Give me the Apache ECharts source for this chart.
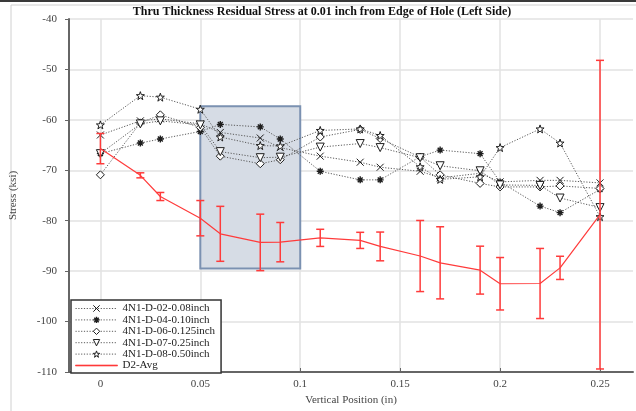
<!DOCTYPE html>
<html>
<head>
<meta charset="utf-8">
<script src="https://cdn.jsdelivr.net/npm/echarts@6/dist/echarts.min.js"></script>
<style>
  html, body { margin: 0; padding: 0; background: #ffffff; }
  #chart { width: 636px; height: 411px; }
</style>
</head>
<body>
<div id="chart"></div>
<script>
// Measurement positions along the thickness (in)
const positions = [0, 0.02, 0.03, 0.05, 0.06, 0.08, 0.09, 0.11, 0.13, 0.14, 0.16, 0.17, 0.19, 0.20, 0.22, 0.23, 0.25];

// Residual stress per specimen (ksi)
const spec02 = [-63.0, -60.2, -59.8, -60.8, -62.5, -63.6, -65.5, -67.2, -68.4, -69.4, -70.2, -71.5, -70.6, -72.3, -72.0, -72.0, -72.5];
const spec04 = [-66.7, -64.6, -63.8, -62.3, -60.9, -61.4, -63.8, -70.2, -71.9, -71.9, -67.3, -66.0, -66.7, -72.3, -77.1, -78.4, -73.8];
const spec06 = [-70.9, -60.6, -59.0, -61.5, -67.2, -68.7, -67.9, -63.4, -61.9, -63.7, -67.4, -70.9, -72.6, -73.3, -73.3, -73.1, -73.6];
const spec07 = [-66.7, -60.8, -60.2, -61.0, -66.3, -67.5, -67.4, -65.4, -64.7, -65.5, -67.5, -69.1, -70.1, -72.9, -73.0, -75.5, -77.4];
const spec08 = [-61.0, -55.2, -55.5, -57.9, -63.4, -65.1, -65.2, -62.1, -61.8, -63.1, -69.3, -71.8, -71.3, -65.5, -61.8, -64.6, -79.2];

// D2 average and its scatter (ksi)
const avgMean = [-65.7, -71.0, -75.2, -79.5, -82.6, -84.3, -84.25, -83.4, -83.9, -85.1, -87.0, -88.35, -89.8, -92.5, -92.45, -89.35, -78.8];
const avgErr  = [3.0, 0.5, 0.8, 3.5, 5.45, 5.6, 3.9, 1.7, 1.6, 2.85, 7.05, 7.15, 4.75, 5.2, 6.95, 2.3, 30.6];

// Series names
const seriesNames = ['4N1-D-02-0.08inch', '4N1-D-04-0.10inch', '4N1-D-06-0.125inch', '4N1-D-07-0.25inch', '4N1-D-08-0.50inch', 'D2-Avg'];

// Axis ticks
const xTicks = [0, 0.05, 0.1, 0.15, 0.2, 0.25];

// Highlighted zone (x range in inches, stress range in ksi)
const zoneX = [0.05, 0.1];
const zoneY = [-89.5, -57.3];

const SERIF = '"Liberation Serif", "Times New Roman", serif';
const INK = '#1e1e1e';
const DOT_LINE = { color: '#5a5a5a', width: 1, type: [1.2, 1.6] };
const RED = '#ff3b3b';

const SYM_CROSS = 'path://M0,0L10,10M10,0L0,10';
const SYM_AST = 'path://M5,0L5,10M0,5L10,5M1.5,1.5L8.5,8.5M8.5,1.5L1.5,8.5';
const SYM_STAR = 'path://M5,0L6.18,3.38L9.76,3.45L6.9,5.62L7.94,9.05L5,7L2.06,9.05L3.1,5.62L0.24,3.45L3.82,3.38Z';
const SYM_BAR = 'path://M0,0L40,0L40,1L0,1Z';

const markerStyles = [
  { color: 'rgba(0,0,0,0)', borderColor: INK, borderWidth: 1 },
  { color: INK, borderColor: INK, borderWidth: 1.4 },
  { color: '#ffffff', borderColor: INK, borderWidth: 1 },
  { color: '#ffffff', borderColor: INK, borderWidth: 1 },
  { color: '#ffffff', borderColor: INK, borderWidth: 1 }
];

const pair = vals => positions.map((x, i) => [x, vals[i]]);

function specimenSeries(idx, vals, symbol, opts) {
  return Object.assign({
    name: seriesNames[idx],
    type: 'line',
    data: pair(vals),
    symbol: symbol,
    symbolSize: 7,
    lineStyle: DOT_LINE,
    itemStyle: markerStyles[idx],
    emphasis: { disabled: true },
    z: 3
  }, opts || {});
}

const legendData = seriesNames.slice(0, 5).map((n, i) => ({
  name: n,
  itemStyle: markerStyles[i],
  lineStyle: DOT_LINE
}));
legendData.push({
  name: seriesNames[5],
  icon: SYM_BAR,
  itemStyle: { color: RED, borderColor: RED, borderWidth: 0.6 },
  lineStyle: { color: RED, width: 1.2, type: 'solid' }
});

const chart = echarts.init(document.getElementById('chart'), null, { renderer: 'canvas' });

const option = {
  animation: false,
  backgroundColor: '#ffffff',
  grid: { left: 67, right: 3, top: 19, bottom: 30, containLabel: false },
  xAxis: {
    type: 'value',
    min: -0.0157,
    max: 0.2665,
    name: 'Vertical Position (in)',
    nameLocation: 'middle',
    nameGap: 23,
    nameTextStyle: { fontFamily: SERIF, fontSize: 11, color: '#444' },
    axisLine: { show: true, onZero: false, lineStyle: { color: '#666', width: 2 } },
    axisTick: { show: true, inside: true, length: 4, customValues: xTicks, lineStyle: { color: '#666' } },
    axisLabel: { customValues: xTicks, fontFamily: SERIF, fontSize: 11, color: '#444', margin: 7,
      formatter: v => String(+v.toFixed(2)) },
    splitLine: { show: true, lineStyle: { color: '#e2e2e2', width: 1.5 } }
  },
  yAxis: {
    type: 'value',
    min: -110,
    max: -40,
    interval: 10,
    name: 'Stress (ksi)',
    nameLocation: 'middle',
    nameGap: 50,
    nameRotate: 90,
    nameTextStyle: { fontFamily: SERIF, fontSize: 11, color: '#444' },
    axisLine: { show: true, onZero: false, lineStyle: { color: '#666', width: 2 } },
    axisTick: { show: true, inside: false, length: 4, lineStyle: { color: '#666' } },
    axisLabel: { fontFamily: SERIF, fontSize: 11, color: '#444', margin: 12 },
    splitLine: { show: true, lineStyle: { color: '#e2e2e2', width: 1.5 } }
  },
  legend: {
    orient: 'vertical',
    left: 71,
    top: 300,
    data: legendData,
    itemWidth: 42,
    itemHeight: 8,
    itemGap: 0.4,
    padding: [3, 6, 2, 4],
    borderColor: '#333',
    borderWidth: 1.5,
    backgroundColor: '#ffffff',
    selectedMode: false,
    textStyle: { fontFamily: SERIF, fontSize: 11, color: '#222' }
  },
  graphic: [
    { type: 'rect', silent: true, z: -10, shape: { x: 11, y: 5, width: 700, height: 500 },
      style: { fill: 'none', stroke: '#d0d0d0', lineWidth: 1 } },
    { type: 'rect', silent: true, z: -10, shape: { x: 0, y: 0, width: 636, height: 2 },
      style: { fill: '#3a3a3a' } },
    { type: 'text', silent: true, x: 322, y: 12,
      style: { text: 'Thru Thickness Residual Stress at 0.01 inch from Edge of Hole (Left Side)',
        fontFamily: SERIF, fontWeight: 'bold', fontSize: 12, fill: '#111',
        align: 'center', verticalAlign: 'middle' } }
  ],
  series: [
    specimenSeries(0, spec02, SYM_CROSS, {
      markArea: {
        silent: true,
        itemStyle: { color: '#d6dce5', borderColor: '#7b91b1', borderWidth: 2 },
        data: [[{ coord: [zoneX[0], zoneY[1]] }, { coord: [zoneX[1], zoneY[0]] }]]
      }
    }),
    specimenSeries(1, spec04, SYM_AST),
    specimenSeries(2, spec06, 'diamond', { symbolSize: 8 }),
    specimenSeries(3, spec07, 'triangle', { symbolSize: 8, symbolRotate: 180 }),
    specimenSeries(4, spec08, SYM_STAR, { symbolSize: 8 }),
    {
      name: seriesNames[5],
      type: 'line',
      data: pair(avgMean),
      symbol: 'none',
      lineStyle: { color: RED, width: 1.2 },
      itemStyle: { color: RED },
      emphasis: { disabled: true },
      z: 6
    },
    {
      name: 'D2-Avg scatter',
      type: 'custom',
      data: positions.map((x, i) => [x, avgMean[i] - avgErr[i], avgMean[i] + avgErr[i]]),
      encode: { x: 0, y: [1, 2] },
      z: 7,
      renderItem: function (params, api) {
        const x = api.value(0);
        const top = api.coord([x, api.value(2)]);
        const bot = api.coord([x, api.value(1)]);
        const half = 4;
        const style = { stroke: RED, lineWidth: 1.5, fill: 'none' };
        return {
          type: 'group',
          children: [
            { type: 'line', shape: { x1: top[0], y1: top[1], x2: bot[0], y2: bot[1] }, style: style },
            { type: 'line', shape: { x1: top[0] - half, y1: top[1], x2: top[0] + half, y2: top[1] }, style: style },
            { type: 'line', shape: { x1: bot[0] - half, y1: bot[1], x2: bot[0] + half, y2: bot[1] }, style: style }
          ]
        };
      }
    }
  ]
};

chart.setOption(option);
</script>
</body>
</html>
